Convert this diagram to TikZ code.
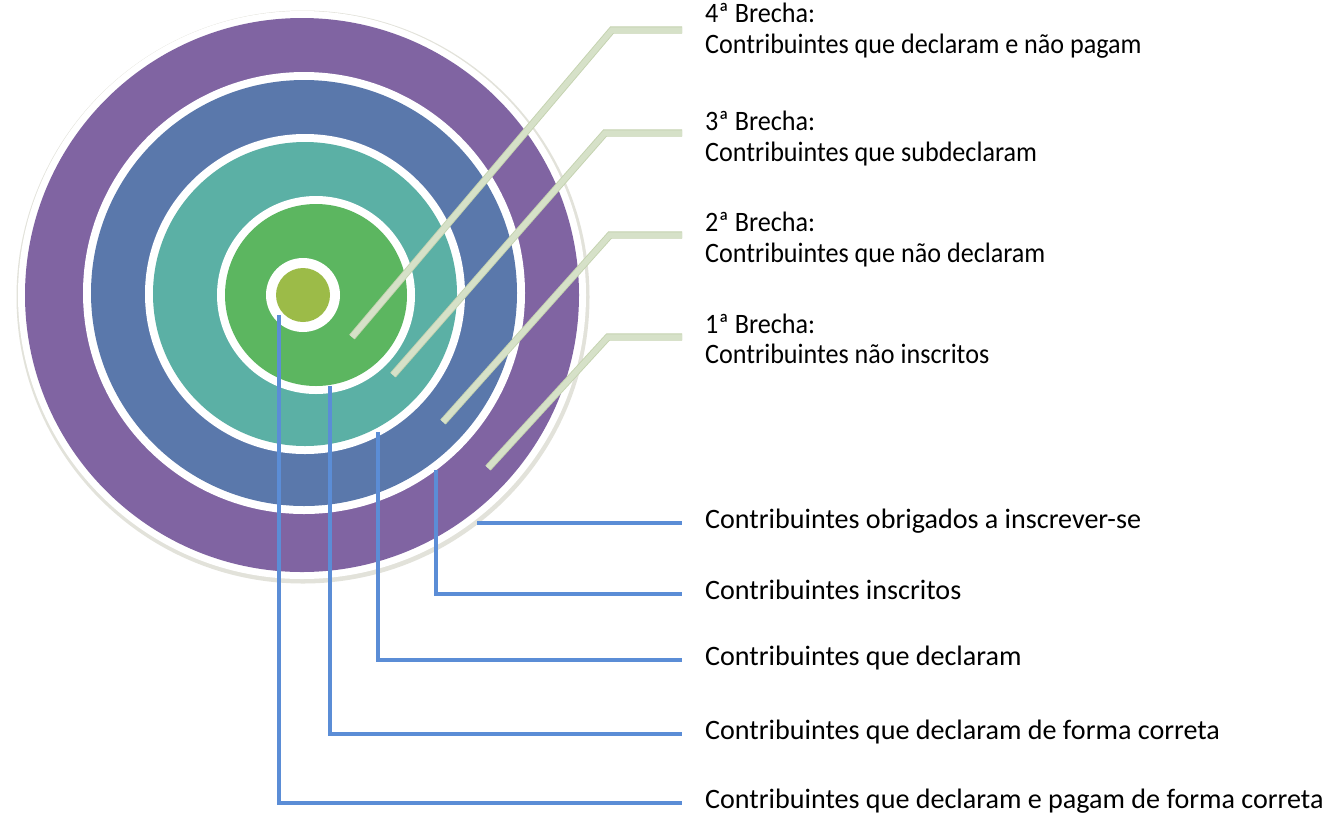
\documentclass[tikz,border=0pt]{standalone}
\usepackage{fontspec}
\setmainfont{Carlito}
\newfontfamily\topfont[FakeStretch=0.93]{Carlito}
\definecolor{cpurple}{HTML}{8064A2}
\definecolor{cblue}{HTML}{5A78AB}
\definecolor{cteal}{HTML}{5BB0A5}
\definecolor{cgreen}{HTML}{5CB660}
\definecolor{clime}{HTML}{9CBB48}
\definecolor{cconn}{HTML}{5B8DD6}
\definecolor{ccallin}{HTML}{D6E1C8}
\definecolor{ccallout}{HTML}{C4D2AF}
\definecolor{crim}{HTML}{E2E2DA}
\begin{document}
\begin{tikzpicture}[x=1pt,y=-1pt,
  toplab/.style={anchor=base west,inner sep=0pt,font=\topfont\fontsize{28.1}{33}\selectfont},
  botlab/.style={anchor=base west,inner sep=0pt,font=\fontsize{28.1}{33}\selectfont},
  callout/.style={draw=ccallout,line width=0.9pt,double=ccallin,double distance=5.5pt},
  conn/.style={draw=cconn,line width=4.5pt}]
\useasboundingbox (0,0) rectangle (1327,815);
\fill[white] (0,0) rectangle (1327,815);
% rings
\fill[crim] (303,297) circle[radius=286.5pt];
\fill[white] (302,295) circle[radius=284pt];
\fill[cpurple] (302,295) circle[radius=277pt];
\fill[white] (304,293) circle[radius=221pt];
\fill[cblue] (304,293) circle[radius=213pt];
\fill[white] (305,294) circle[radius=160pt];
\fill[cteal] (305,294) circle[radius=152pt];
\fill[white] (316,295) circle[radius=99pt];
\fill[cgreen] (316,295) circle[radius=91pt];
\fill[white] (303,295) circle[radius=37pt];
\fill[clime] (303,295) circle[radius=27pt];
% top labels
\node[toplab] (b4h) at (705,22.7) {4ª Brecha:};
\node[toplab] (b4) at (705,53.3) {Contribuintes que declaram e não pagam};
\node[toplab] (b3h) at (705,130) {3ª Brecha:};
\node[toplab] (b3) at (705,161) {Contribuintes que subdeclaram};
\node[toplab] (b2h) at (705,231) {2ª Brecha:};
\node[toplab] (b2) at (705,262) {Contribuintes que não declaram};
\node[toplab] (b1h) at (705,333) {1ª Brecha:};
\node[toplab] (b1) at (705,363.5) {Contribuintes não inscritos};
% bottom labels
\node[botlab] (l1) at (705,528.5) {Contribuintes obrigados a inscrever-se};
\node[botlab] (l2) at (705,599.5) {Contribuintes inscritos};
\node[botlab] (l3) at (705,665.5) {Contribuintes que declaram};
\node[botlab] (l4) at (705,739.5) {Contribuintes que declaram de forma correta};
\node[botlab] (l5) at (705,808.5) {Contribuintes que declaram e pagam de forma correta};
% callout coordinates
\coordinate (c4a) at (352,337); \coordinate (c4b) at (612,30);  \coordinate (c4c) at (682,30);
\coordinate (c3a) at (393,375); \coordinate (c3b) at (605,133); \coordinate (c3c) at (682,133);
\coordinate (c2a) at (443,422); \coordinate (c2b) at (610,235); \coordinate (c2c) at (682,235);
\coordinate (c1a) at (488,468); \coordinate (c1b) at (608,337); \coordinate (c1c) at (682,337);
\draw[callout] (c4a) -- (c4b) -- (c4c);
\draw[callout] (c3a) -- (c3b) -- (c3c);
\draw[callout] (c2a) -- (c2b) -- (c2c);
\draw[callout] (c1a) -- (c1b) -- (c1c);
% connector coordinates
\coordinate (s1) at (477,523); \coordinate (e1) at (682,523);
\coordinate (s2) at (436,470); \coordinate (e2) at (682,594);
\coordinate (s3) at (378,432); \coordinate (e3) at (682,660);
\coordinate (s4) at (330,386); \coordinate (e4) at (682,734);
\coordinate (s5) at (279,315); \coordinate (e5) at (682,803);
\draw[conn] (s1) -- (e1);
\draw[conn] (s2) |- (e2);
\draw[conn] (s3) |- (e3);
\draw[conn] (s4) |- (e4);
\draw[conn] (s5) |- (e5);
\end{tikzpicture}
\end{document}
